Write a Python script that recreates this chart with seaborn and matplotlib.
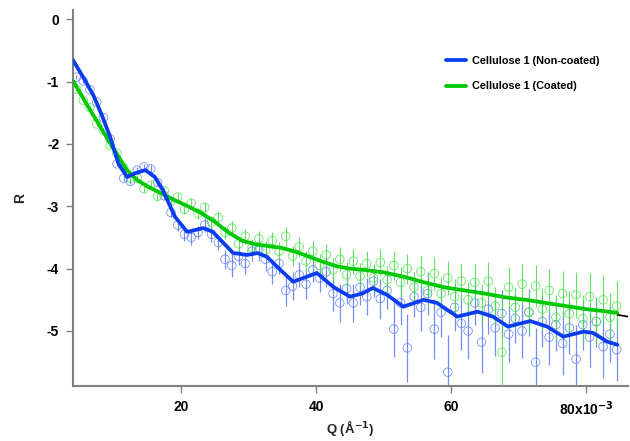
import numpy as np
import pandas as pd
import seaborn as sns
import matplotlib.pyplot as plt

# measured points (Q in 1e-3 A^-1, R in log units)
q = [4.5, 5.5, 6.5, 7.5, 8.5, 9.5, 10.5, 11.5, 12.5, 13.5, 14.5, 15.5, 16.5, 17.5, 18.5, 19.5,
     20.5, 21.5, 22.5, 23.5, 24.5, 25.5, 26.5, 27.5, 28.5, 29.5, 30.5, 31.5, 32.5, 33.5, 34.5,
     35.5, 36.5, 37.5, 38.5, 39.5, 40.5, 41.5, 42.5, 43.5, 44.5, 45.5, 46.5, 47.5, 48.5, 49.5,
     50.5, 51.5, 52.5, 53.5, 54.5, 55.5, 56.5, 57.5, 58.5, 59.5, 60.5, 61.5, 62.5, 63.5, 64.5,
     65.5, 66.5, 67.5, 68.5, 69.5, 70.5, 71.5, 72.5, 73.5, 74.5, 75.5, 76.5, 77.5, 78.5, 79.5,
     80.5, 81.5, 82.5, 83.5, 84.5]

r_blue = [-0.93, -0.99, -1.13, -1.33, -1.58, -1.92, -2.32, -2.55, -2.60, -2.42, -2.37, -2.40,
          -2.62, -2.83, -3.10, -3.30, -3.45, -3.50, -3.42, -3.30, -3.45, -3.58, -3.85, -3.95,
          -3.80, -3.92, -3.72, -3.70, -3.85, -4.05, -3.92, -4.35, -4.28, -4.10, -4.25, -4.02,
          -4.15, -4.05, -4.40, -4.55, -4.32, -4.55, -4.30, -4.45, -4.20, -4.48, -4.35, -4.97,
          -4.55, -5.27, -4.45, -4.62, -4.40, -4.97, -4.70, -5.66, -4.62, -4.88, -5.00, -4.55,
          -5.18, -4.65, -4.95, -4.72, -5.05, -4.80, -5.00, -4.70, -5.50, -4.85, -5.10, -4.90,
          -5.20, -4.95, -5.45, -4.90, -5.10, -4.85, -5.25, -5.05, -5.30]

err_blue = [0.03, 0.03, 0.03, 0.03, 0.04, 0.04, 0.04, 0.05, 0.05, 0.05, 0.05, 0.06, 0.06, 0.07,
            0.08, 0.09, 0.10, 0.12, 0.10, 0.12, 0.13, 0.12, 0.15, 0.18, 0.14, 0.16, 0.15, 0.17,
            0.18, 0.20, 0.17, 0.25, 0.22, 0.20, 0.24, 0.20, 0.22, 0.24, 0.28, 0.30, 0.25, 0.30,
            0.28, 0.30, 0.26, 0.32, 0.30, 0.45, 0.35, 0.55, 0.32, 0.38, 0.34, 0.48, 0.40, 0.60,
            0.38, 0.42, 0.45, 0.36, 0.50, 0.40, 0.45, 0.38, 0.45, 0.40, 0.44, 0.38, 0.55, 0.40,
            0.45, 0.42, 0.50, 0.42, 0.55, 0.40, 0.48, 0.40, 0.50, 0.45, 0.50]

r_green = [-1.12, -1.30, -1.42, -1.68, -1.78, -2.03, -2.15, -2.38, -2.55, -2.55, -2.72, -2.66,
           -2.84, -2.75, -2.92, -2.85, -3.05, -2.95, -3.12, -3.02, -3.25, -3.18, -3.42, -3.35,
           -3.60, -3.48, -3.66, -3.52, -3.70, -3.55, -3.72, -3.48, -3.80, -3.65, -3.88, -3.72,
           -3.95, -3.78, -4.02, -3.85, -4.10, -3.88, -4.12, -3.92, -4.15, -3.90, -4.18, -3.95,
           -4.22, -4.00, -4.30, -4.05, -4.35, -4.08, -4.40, -4.15, -4.45, -4.20, -4.50, -4.22,
           -4.55, -4.20, -4.60, -5.34, -4.30, -4.62, -4.25, -4.70, -4.28, -4.65, -4.35, -4.78,
           -4.40, -4.72, -4.42, -4.80, -4.45, -4.85, -4.50, -4.78, -4.60]

err_green = [0.03, 0.03, 0.03, 0.03, 0.04, 0.04, 0.04, 0.04, 0.05, 0.05, 0.05, 0.06, 0.06, 0.06,
             0.07, 0.07, 0.08, 0.08, 0.09, 0.09, 0.10, 0.10, 0.11, 0.11, 0.12, 0.12, 0.13, 0.13,
             0.14, 0.14, 0.15, 0.15, 0.16, 0.16, 0.17, 0.17, 0.18, 0.18, 0.19, 0.19, 0.20, 0.20,
             0.21, 0.21, 0.22, 0.22, 0.23, 0.23, 0.24, 0.24, 0.25, 0.25, 0.26, 0.26, 0.27, 0.27,
             0.28, 0.28, 0.29, 0.29, 0.30, 0.30, 0.31, 0.90, 0.32, 0.32, 0.33, 0.33, 0.34, 0.34,
             0.35, 0.35, 0.36, 0.36, 0.37, 0.37, 0.38, 0.38, 0.39, 0.39, 0.40]

# fitted curves, traced
q_fit_blue = [4.0, 5.5, 7.0, 8.3, 9.5, 10.7, 12.0, 13.2, 14.7, 16.1, 17.3, 19.1, 20.9, 22.5,
              23.3, 24.7, 26.2, 27.7, 29.8, 31.3, 32.7, 34.7, 36.6, 38.1, 40.1, 42.5, 45.0,
              46.8, 48.4, 50.5, 52.9, 55.9, 57.9, 60.9, 63.9, 66.2, 68.4, 71.7, 74.2, 76.6,
              79.6, 81.0, 83.1, 84.6]
r_fit_blue = [-0.66, -0.93, -1.22, -1.55, -1.89, -2.31, -2.53, -2.47, -2.42, -2.53, -2.74,
              -3.17, -3.41, -3.37, -3.35, -3.41, -3.58, -3.75, -3.78, -3.75, -3.81, -4.02,
              -4.21, -4.15, -4.07, -4.29, -4.45, -4.40, -4.31, -4.42, -4.61, -4.50, -4.55,
              -4.77, -4.69, -4.77, -4.93, -4.84, -4.93, -5.09, -5.01, -5.03, -5.17, -5.22]

q_fit_green = [4.0, 6.0, 8.0, 10.0, 12.0, 13.5, 15.0, 17.0, 19.0, 21.0, 23.0, 25.0, 27.0,
               29.0, 31.0, 33.0, 35.0, 37.0, 39.0, 41.0, 43.0, 45.0, 47.0, 50.0, 53.0, 56.0,
               59.0, 62.0, 65.0, 68.0, 71.0, 74.0, 77.0, 80.0, 82.5, 84.6]
r_fit_green = [-0.99, -1.36, -1.72, -2.08, -2.42, -2.58, -2.68, -2.79, -2.90, -3.00, -3.11,
               -3.25, -3.42, -3.55, -3.61, -3.64, -3.67, -3.73, -3.81, -3.89, -3.96, -4.00,
               -4.02, -4.06, -4.13, -4.22, -4.30, -4.35, -4.40, -4.46, -4.50, -4.55, -4.60,
               -4.65, -4.68, -4.71]

q_tail = [84.6, 86.2]
r_tail = [-4.74, -4.77]

blue_fit_c = '#0a3cf0'
blue_pt_c = '#5a78f5'
green_fit_c = '#00c800'
green_pt_c = '#44e044'

sns.set_theme(style='white')
plt.rcParams['font.family'] = ['Liberation Sans', 'DejaVu Sans']
plt.rcParams['font.weight'] = 'bold'
plt.rcParams['mathtext.default'] = 'bf'
plt.rcParams['text.color'] = 'black'
plt.rcParams['xtick.labelcolor'] = 'black'
plt.rcParams['ytick.labelcolor'] = 'black'

fig = plt.figure(figsize=(6.3, 4.41), dpi=100)
ax = fig.add_axes([0.116, 0.125, 0.881, 0.852])

df_b = pd.DataFrame({'Q': q, 'R': r_blue})
df_g = pd.DataFrame({'Q': q, 'R': r_green})

ax.errorbar(q, r_blue, yerr=err_blue, fmt='none', ecolor=blue_pt_c, elinewidth=0.9, alpha=0.85, zorder=2)
sns.scatterplot(data=df_b, x='Q', y='R', ax=ax, marker='o', s=38, facecolors='none',
                edgecolor=blue_pt_c, linewidth=0.6, alpha=0.8, zorder=2)
ax.errorbar(q, r_green, yerr=err_green, fmt='none', ecolor=green_pt_c, elinewidth=0.8, alpha=0.85, zorder=3)
sns.scatterplot(data=df_g, x='Q', y='R', ax=ax, marker='o', s=38, facecolors='none',
                edgecolor=green_pt_c, linewidth=0.6, alpha=0.8, zorder=3)

sns.lineplot(x=q_fit_green, y=r_fit_green, ax=ax, color=green_fit_c, linewidth=2.7,
             sort=False, label='Cellulose 1 (Coated)', zorder=5)
sns.lineplot(x=q_fit_blue, y=r_fit_blue, ax=ax, color=blue_fit_c, linewidth=2.7,
             sort=False, label='Cellulose 1 (Non-coated)', zorder=6)
ax.plot(q_tail, r_tail, color='black', linewidth=1.2, zorder=4)

ax.set_xlim(4.0, 86.2)
ax.set_ylim(-5.88, 0.145)
ax.set_xticks([20, 40, 60, 80])
ax.set_xticklabels(['20', '40', '60', r'80x10$^{-3}$'], fontsize=10, fontweight='bold')
ax.set_yticks([0, -1, -2, -3, -4, -5])
ax.set_yticklabels(['0', '-1', '-2', '-3', '-4', '-5'], fontsize=10, fontweight='bold')
ax.tick_params(axis='both', direction='out', length=5, width=1, color='#808080', pad=5, left=True, bottom=True)

for s in ['top', 'right']:
    ax.spines[s].set_visible(False)
for s in ['left', 'bottom']:
    ax.spines[s].set_color('#808080')
    ax.spines[s].set_linewidth(1.5)

ax.set_xlabel(r'Q (Å$^{-1}$)', fontsize=9.5, fontweight='bold', labelpad=0)
ax.set_ylabel('R', fontsize=10, fontweight='bold', labelpad=14)

h, l = ax.get_legend_handles_labels()
ax.legend(h[::-1], l[::-1], loc='upper left', bbox_to_anchor=(0.655, 0.905), frameon=False,
          handlelength=1.8, handletextpad=0.6, labelspacing=1.45,
          prop={'weight': 'bold', 'size': 7.8})

fig.savefig('out.png', dpi=100)
